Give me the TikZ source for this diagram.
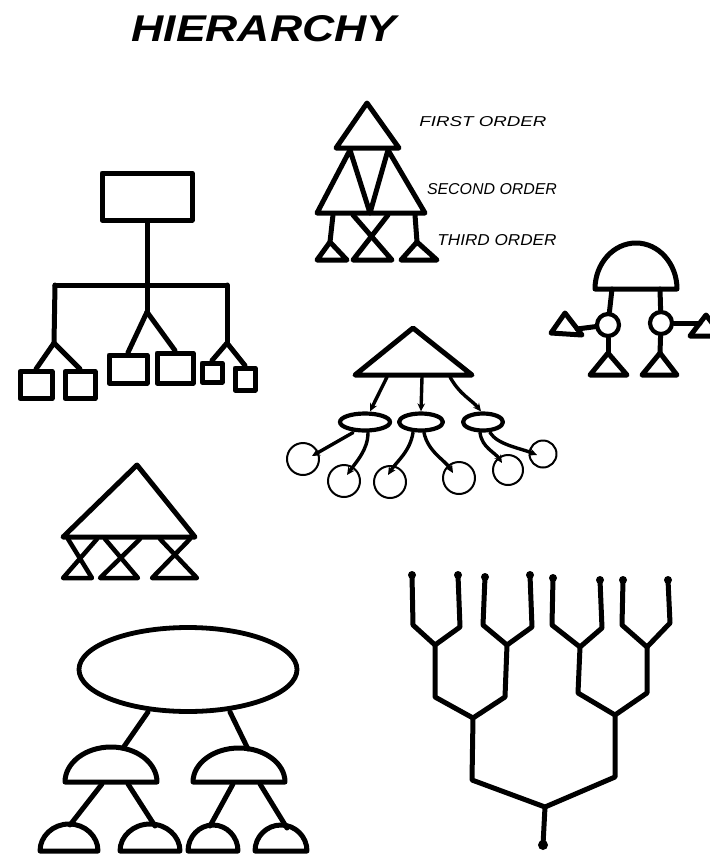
\documentclass[tikz,border=0pt]{standalone}
\usepackage{fontspec}
\setmainfont{Liberation Sans}
\usetikzlibrary{arrows.meta,shapes.geometric}
\begin{document}
\begin{tikzpicture}[x=1pt,y=-1pt,line join=round,line cap=round,
  ink/.style={line width=5pt},
  sq/.style={draw,line width=5pt,rectangle,inner sep=0pt},
  oval/.style={draw,ellipse,line width=4.2pt,inner sep=0pt},
  ring/.style={draw,circle,line width=2pt,inner sep=0pt},
  knob/.style={draw,circle,line width=4.2pt,inner sep=0pt},
  arr/.style={line width=3.4pt,-{Stealth[length=8pt,width=7.5pt]}},
  dot/.style={circle,fill=black,inner sep=0pt},
  lbl/.style={inner sep=0pt}]
\useasboundingbox (0,0) rectangle (710,855);
\clip (0,0) rectangle (710,855);

% title and labels
\node[lbl] (title) at (264,29) {\resizebox{265pt}{26pt}{\bfseries\itshape HIERARCHY}};
\node[lbl] (first) at (483,122) {\resizebox{127pt}{10pt}{\itshape FIRST ORDER}};
\node[lbl] (second) at (492,189) {\resizebox{130pt}{11pt}{\itshape SECOND ORDER}};
\node[lbl] (third) at (497,240) {\resizebox{119pt}{11pt}{\itshape THIRD ORDER}};

% triangle of triangles
\draw[ink] (367,103) -- (336,148) -- (399,148) -- cycle;
\draw[ink] (350,150) -- (317,213) -- (370,213) -- cycle;
\draw[ink] (388,150) -- (370,213) -- (425,213) -- cycle;
\draw[ink] (333,215) -- (330,242);
\draw[ink] (330,242) -- (317,260) -- (347,260) -- cycle;
\draw[ink] (353,215) -- (392,260) -- (353,260) -- (388,215);
\draw[ink] (415,215) -- (417,242);
\draw[ink] (417,242) -- (401,260) -- (437,260) -- cycle;

% organisation chart
\node[sq,minimum width=90pt,minimum height=47pt] (top) at (147,196.5) {};
\coordinate (hub) at (147,285);
\coordinate (lb) at (55,285);
\coordinate (rb) at (227,285);
\coordinate (ls) at (54,343);
\coordinate (ms) at (147,312);
\coordinate (rs) at (227,343);
\node[sq,minimum width=32pt,minimum height=27pt] (s1) at (36,385) {};
\node[sq,minimum width=30pt,minimum height=27pt] (s2) at (80,385) {};
\node[sq,minimum width=38pt,minimum height=28pt] (s3) at (128,369) {};
\node[sq,minimum width=36pt,minimum height=30pt] (s4) at (175,368) {};
\node[sq,minimum width=20pt,minimum height=19pt] (s5) at (212,372.5) {};
\node[sq,minimum width=20pt,minimum height=22pt] (s6) at (245,379) {};
\draw[ink] (top.south) -- (hub);
\draw[ink] (lb) -- (rb);
\draw[ink] (lb) -- (ls);
\draw[ink] (ls) -- (s1.north);
\draw[ink] (ls) -- (s2.north);
\draw[ink] (hub) -- (ms);
\draw[ink] (ms) -- (s3.north);
\draw[ink] (ms) -- (s4.north);
\draw[ink] (rb) -- (rs);
\draw[ink] (rs) -- (s5.north);
\draw[ink] (rs) -- (s6.north);

% dome with knobs
\draw[ink] (595,289) arc[start angle=180,end angle=360,x radius=41,y radius=46] -- cycle;
\coordinate (dl) at (612,289);
\coordinate (dr) at (660,289);
\node[knob,minimum size=22pt] (k1) at (608,325) {};
\node[knob,minimum size=22pt] (k2) at (661,323) {};
\draw[ink] (dl) -- (k1);
\draw[ink] (dr) -- (k2);
\coordinate (tl) at (577,329);
\coordinate (tr) at (700,323);
\draw[ink] (k1) -- (tl);
\draw[ink] (k2) -- (tr);
\draw[ink] (565,313) -- (551,333) -- (582,335) -- cycle;
\draw[ink] (706,315) -- (690,336) -- (722,336) -- cycle;
\coordinate (ta1) at (608,353);
\coordinate (ta2) at (660,353);
\draw[ink] (k1) -- (ta1);
\draw[ink] (k2) -- (ta2);
\draw[ink] (ta1) -- (590,375) -- (627,375) -- cycle;
\draw[ink] (ta2) -- (642,375) -- (677,375) -- cycle;

% triangle, ellipses and circles
\draw[ink] (413,328) -- (355,375) -- (472,375) -- cycle;
\node[oval,minimum width=50pt,minimum height=17pt] (e1) at (365,422) {};
\node[oval,minimum width=44pt,minimum height=17pt] (e2) at (421,422) {};
\node[oval,minimum width=40pt,minimum height=17pt] (e3) at (483,422) {};
\coordinate (a1) at (387,377);
\coordinate (a2) at (422,377);
\coordinate (a3) at (450,377);
\draw[arr] (a1) -- ([xshift=5pt]e1.north);
\draw[arr] (a2) -- (e2.north);
\draw[arr] (a3) .. controls (460,395) and (472,400) .. ([xshift=-2pt]e3.north);
\node[ring,minimum size=32pt] (c1) at (303,459) {};
\node[ring,minimum size=32pt] (c2) at (344,481) {};
\node[ring,minimum size=32pt] (c3) at (390,482) {};
\node[ring,minimum size=32pt] (c4) at (459,478) {};
\node[ring,minimum size=30pt] (c5) at (508,470) {};
\node[ring,minimum size=27pt] (c6) at (543,454) {};
\coordinate (p1) at (312,456);
\coordinate (p2) at (347,475);
\coordinate (p3) at (388,475);
\coordinate (p4) at (453,473);
\coordinate (p5) at (502,463);
\coordinate (p6) at (537,455);
\draw[arr] ([xshift=-12pt]e1.south) .. controls (340,440) and (326,448) .. (p1);
\draw[arr] ([xshift=3pt]e1.south) .. controls (368,450) and (356,462) .. (p2);
\draw[arr] ([xshift=-8pt]e2.south) .. controls (410,452) and (396,462) .. (p3);
\draw[arr] ([xshift=3pt]e2.south) .. controls (428,452) and (445,460) .. (p4);
\draw[arr] ([xshift=-3pt]e3.south) .. controls (482,448) and (495,452) .. (p5);
\draw[arr] ([xshift=7pt]e3.south) .. controls (498,445) and (520,448) .. (p6);

% triangle with hourglasses
\draw[ink] (137,465) -- (63,537) -- (195,537) -- cycle;
\draw[line width=4.5pt] (68,539) -- (92,578) -- (63,578) -- (97,539);
\draw[line width=4.5pt] (105,539) -- (138,578) -- (100,578) -- (140,539);
\draw[line width=4.5pt] (160,539) -- (197,578) -- (152,578) -- (190,539);

% binary tree
\node[dot,minimum size=10pt] (root) at (543,845) {};
\coordinate (r0) at (545,807);
\coordinate (L1) at (472,780);
\coordinate (L1t) at (473,718);
\coordinate (R1) at (615,777);
\coordinate (R1t) at (615,715);
\coordinate (LL) at (435,697);
\coordinate (LLt) at (435,645);
\coordinate (LR) at (505,697);
\coordinate (LRt) at (507,645);
\coordinate (RL) at (578,693);
\coordinate (RLt) at (580,647);
\coordinate (RR) at (647,693);
\coordinate (RRt) at (647,647);
\coordinate (LLa) at (413,625);
\coordinate (LLb) at (460,627);
\coordinate (LRa) at (483,625);
\coordinate (LRb) at (532,627);
\coordinate (RLa) at (552,625);
\coordinate (RLb) at (602,628);
\coordinate (RRa) at (622,625);
\coordinate (RRb) at (670,623);
\node[dot,minimum size=8pt] (f1) at (412,575) {};
\node[dot,minimum size=8pt] (f2) at (458,575) {};
\node[dot,minimum size=8pt] (f3) at (485,577) {};
\node[dot,minimum size=8pt] (f4) at (530,575) {};
\node[dot,minimum size=8pt] (f5) at (553,578) {};
\node[dot,minimum size=8pt] (f6) at (600,580) {};
\node[dot,minimum size=8pt] (f7) at (623,580) {};
\node[dot,minimum size=8pt] (f8) at (668,580) {};
\draw[ink] (root.center) -- (r0);
\draw[ink] (L1t) -- (L1) -- (r0) -- (R1) -- (R1t);
\draw[ink] (LLt) -- (LL) -- (L1t) -- (LR) -- (LRt);
\draw[ink] (RLt) -- (RL) -- (R1t) -- (RR) -- (RRt);
\draw[ink] (f1.center) -- (LLa) -- (LLt) -- (LLb) -- (f2.center);
\draw[ink] (f3.center) -- (LRa) -- (LRt) -- (LRb) -- (f4.center);
\draw[ink] (f5.center) -- (RLa) -- (RLt) -- (RLb) -- (f6.center);
\draw[ink] (f7.center) -- (RRa) -- (RRt) -- (RRb) -- (f8.center);

% ellipse with domes
\node[oval,line width=4.8pt,minimum width=218pt,minimum height=84pt] (big) at (188,669.5) {};
\coordinate (bl) at (148,712);
\coordinate (br) at (230,712);
\coordinate (dtl) at (123,748);
\coordinate (dtr) at (248,749);
\draw[ink] (bl) -- (dtl);
\draw[ink] (br) -- (dtr);
\draw[ink] (65,782) arc[start angle=180,end angle=360,x radius=46,y radius=35] -- cycle;
\draw[ink] (193,782) arc[start angle=180,end angle=360,x radius=46,y radius=34] -- cycle;
\coordinate (m1) at (102,784);
\coordinate (m2) at (128,784);
\coordinate (m3) at (233,784);
\coordinate (m4) at (260,784);
\coordinate (n1) at (70,825);
\coordinate (n2) at (155,826);
\coordinate (n3) at (210,826);
\coordinate (n4) at (287,828);
\draw[ink] (m1) -- (n1);
\draw[ink] (m2) -- (n2);
\draw[ink] (m3) -- (n3);
\draw[ink] (m4) -- (n4);
\draw[ink] (40,851) arc[start angle=180,end angle=360,x radius=29,y radius=27] -- cycle;
\draw[ink] (120,851) arc[start angle=180,end angle=360,x radius=30,y radius=27] -- cycle;
\draw[ink] (188,851) arc[start angle=180,end angle=360,x radius=25,y radius=26] -- cycle;
\draw[ink] (255,851) arc[start angle=180,end angle=360,x radius=26,y radius=26] -- cycle;
\end{tikzpicture}
\end{document}
